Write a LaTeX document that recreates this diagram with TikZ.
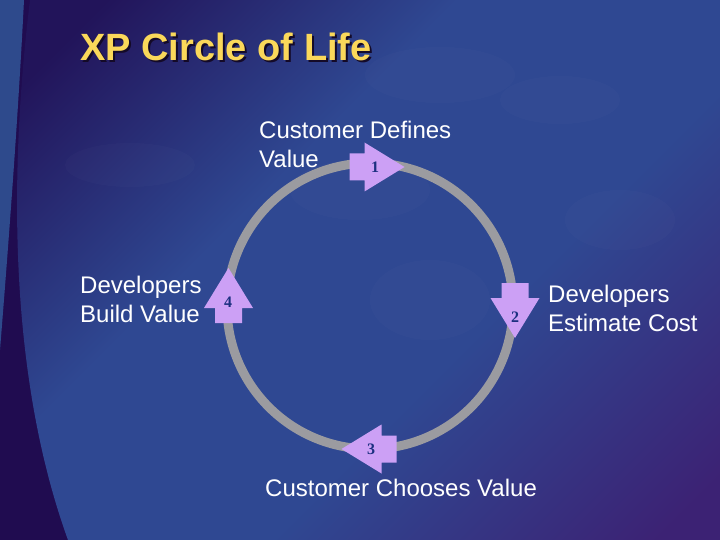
\documentclass[tikz,border=0pt]{standalone}
\usepackage{fontspec}
\setmainfont{Liberation Sans}
\newfontfamily\numfont{Liberation Serif}

\definecolor{navydark}{RGB}{32,12,80}
\definecolor{stripblue}{RGB}{46,74,140}
\definecolor{panelnavy}{RGB}{34,20,90}
\definecolor{panelblue}{RGB}{47,72,146}
\definecolor{panelpurple}{RGB}{60,34,116}
\definecolor{titleyellow}{RGB}{250,216,90}
\definecolor{titleshadow}{RGB}{20,10,40}
\definecolor{ringgray}{RGB}{155,155,160}
\definecolor{arrowlilac}{RGB}{204,160,245}
\definecolor{numblue}{RGB}{28,48,128}

\pgfdeclarehorizontalshading{panelshade}{100bp}{color(0bp)=(panelnavy); color(20bp)=(panelnavy); color(40bp)=(panelblue); color(60bp)=(panelblue); color(82bp)=(panelpurple); color(100bp)=(panelpurple)}

\newcommand{\shadowtitle}[1]{\rlap{\kern2pt\raisebox{-2pt}{\textcolor{titleshadow}{#1}}}#1}

\begin{document}
\begin{tikzpicture}[x=1pt, y=-1pt,
    stagetext/.style={align=left, inner sep=0pt, text=white, font=\fontsize{24}{29}\selectfont},
    stagenum/.style={inner sep=0pt, text=numblue, font=\numfont\bfseries\fontsize{16}{16}\selectfont},
    blockarrow/.style={fill=arrowlilac},
    heading/.style={inner sep=0pt, anchor=base west, text=titleyellow, font=\bfseries\fontsize{38}{42}\selectfont},
    ring/.style={draw=ringgray, line width=9pt},
    bubble/.style={fill=white, fill opacity=0.015}
  ]

  % background
  \fill[navydark] (0,0) rectangle (720,540);
  \fill[stripblue] (0,0) -- (24,0) .. controls (18,120) and (8,250) .. (0,350) -- cycle;
  \shade[shading=panelshade, shading angle=-45] (30,0) .. controls (8,180) and (10,380) .. (68,540) -- (720,540) -- (720,0) -- cycle;
  \foreach \bx/\by/\brx/\bry in {440/75/75/28, 560/100/60/24, 130/165/65/22, 360/190/70/30, 430/300/60/40, 620/220/55/30}
    \fill[bubble] (\bx,\by) ellipse ({\brx} and {\bry});

  % title
  \node[heading] (head) at (80,61) {\shadowtitle{XP Circle of Life}};

  % ring
  \coordinate (hub) at (370,306);
  \draw[ring] (hub) circle[radius=143];

  % stage arrows: number/centre/turn/label position
  \foreach \n/\ax/\ay/\turn/\nx/\ny in {1/377/167/0/375/167, 2/515/310.5/-90/515/317, 3/369/449/180/371/449, 4/228.5/295.5/90/228/302}{
    \fill[blockarrow, shift={(\ax,\ay)}, rotate=\turn]
      (-27.5,-13.5) -- (-12.5,-13.5) -- (-12.5,-24.5) -- (27.5,0)
      -- (-12.5,24.5) -- (-12.5,13.5) -- (-27.5,13.5) -- cycle;
    \node[stagenum] (a\n) at (\nx,\ny) {\n};
  }

  % stage texts
  \node[stagetext, anchor=north west] (defines) at (259,121) {Customer Defines\\Value};
  \node[stagetext, anchor=north west] (estimate) at (548,285) {Developers\\Estimate Cost};
  \node[stagetext, anchor=north west] (chooses) at (265,479) {Customer Chooses Value};
  \node[stagetext, anchor=north west] (build) at (80,276) {Developers\\Build Value};
\end{tikzpicture}
\end{document}
